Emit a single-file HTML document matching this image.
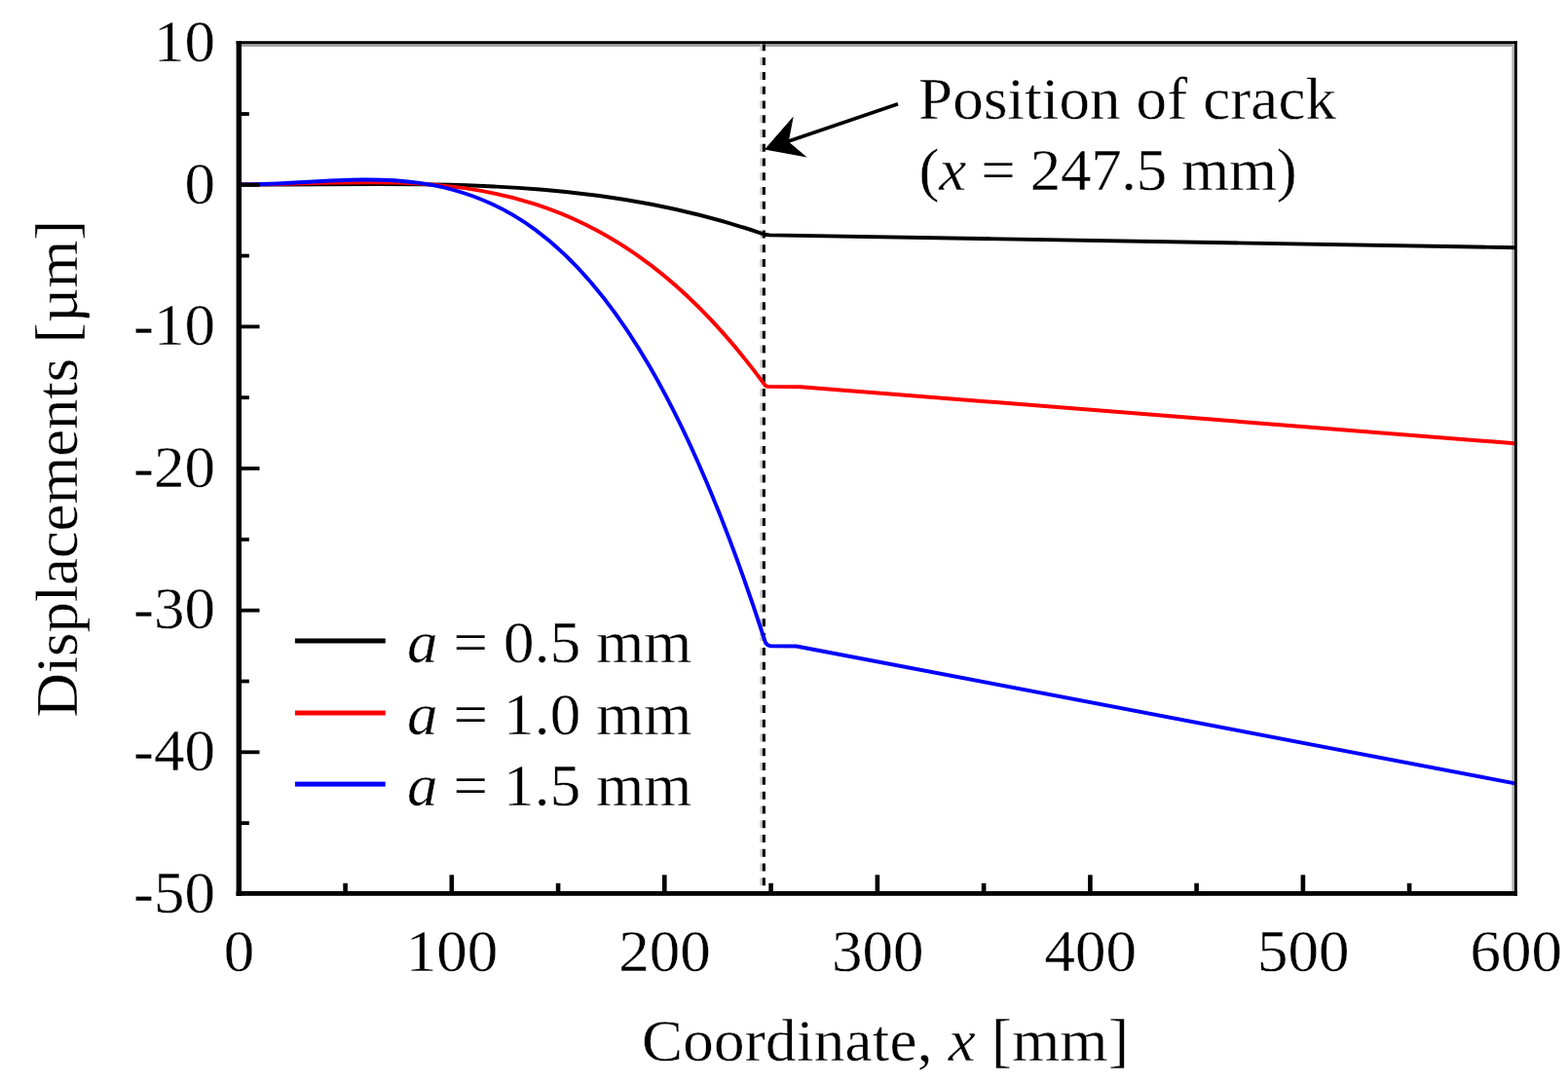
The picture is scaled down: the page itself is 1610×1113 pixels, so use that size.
<!DOCTYPE html>
<html lang="en">
<head>
<meta charset="utf-8">
<title>Displacements vs. coordinate</title>
<style>
html,body{margin:0;padding:0;background:#fff;}
body{width:1610px;height:1113px;overflow:hidden;}
svg{display:block;filter:blur(0.7px);}
text{font-family:"Liberation Serif","DejaVu Serif",serif;font-size:62px;fill:#000;stroke:#fff;stroke-width:0.35px;}
.it{font-style:italic;}
</style>
</head>
<body>
<svg width="1610" height="1113" viewBox="0 0 1610 1113">
<rect width="1610" height="1113" fill="#fff"/>
<rect x="248" y="45" width="1307" height="2.8" fill="#999"/>
<rect x="1552.4" y="45" width="2.6" height="870" fill="#b0b0b0"/>
<line x1="781.5" y1="45.4" x2="781.5" y2="909.3" stroke="#cfcfcf" stroke-width="2.6" stroke-dasharray="8 6.775" stroke-dashoffset="1.075"/>
<line x1="784.35" y1="45.4" x2="784.35" y2="909.3" stroke="#000" stroke-width="3.1" stroke-dasharray="8 6.775" stroke-dashoffset="1.075"/>
<path d="M245.30,189.50 C425.20,190.63 605.10,177.57 785.00,240.75 L790.0,241.4 L1555.6,254.2" fill="none" stroke="#000" stroke-width="3.9" stroke-linejoin="round"/>
<path d="M245.30,189.50 C425.53,189.87 605.77,148.95 786.00,396.15 L788.5,396.9 L822.0,397.2 L1555.6,455.3" fill="none" stroke="#f00" stroke-width="3.9" stroke-linejoin="round"/>
<path d="M245.30,189.50 C425.53,190.38 605.77,98.59 786.00,659.90 L788.3,662.4 L791.5,663.4 L817.6,663.5 L1555.6,804.4" fill="none" stroke="#00f" stroke-width="3.9" stroke-linejoin="round"/>
<rect x="242.6" y="42.2" width="5.4" height="877.6" fill="#000"/>
<rect x="242.6" y="915" width="1315.2" height="4.8" fill="#000"/>
<rect x="242.6" y="42.2" width="1315.2" height="2.8" fill="#000"/>
<rect x="1555" y="42.2" width="2.8" height="877.6" fill="#000"/>
<rect x="248" y="115.1" width="7.8" height="3.8" fill="#000"/>
<rect x="248" y="187.9" width="18.5" height="3.8" fill="#000"/>
<rect x="248" y="260.7" width="7.8" height="3.8" fill="#000"/>
<rect x="248" y="333.5" width="18.5" height="3.8" fill="#000"/>
<rect x="248" y="406.3" width="7.8" height="3.8" fill="#000"/>
<rect x="248" y="479.1" width="18.5" height="3.8" fill="#000"/>
<rect x="248" y="552.0" width="7.8" height="3.8" fill="#000"/>
<rect x="248" y="624.8" width="18.5" height="3.8" fill="#000"/>
<rect x="248" y="697.6" width="7.8" height="3.8" fill="#000"/>
<rect x="248" y="770.4" width="18.5" height="3.8" fill="#000"/>
<rect x="248" y="843.2" width="7.8" height="3.8" fill="#000"/>
<rect x="352.3" y="906.8" width="4.6" height="8.4" fill="#000"/>
<rect x="461.5" y="898.3" width="4.6" height="16.9" fill="#000"/>
<rect x="570.8" y="906.8" width="4.6" height="8.4" fill="#000"/>
<rect x="680.0" y="898.3" width="4.6" height="16.9" fill="#000"/>
<rect x="789.3" y="906.8" width="4.6" height="8.4" fill="#000"/>
<rect x="898.6" y="898.3" width="4.6" height="16.9" fill="#000"/>
<rect x="1007.8" y="906.8" width="4.6" height="8.4" fill="#000"/>
<rect x="1117.1" y="898.3" width="4.6" height="16.9" fill="#000"/>
<rect x="1226.3" y="906.8" width="4.6" height="8.4" fill="#000"/>
<rect x="1335.6" y="898.3" width="4.6" height="16.9" fill="#000"/>
<rect x="1444.8" y="906.8" width="4.6" height="8.4" fill="#000"/>
<text transform="translate(220.9,62.8) scale(1.0161,1)" text-anchor="end">10</text>
<text transform="translate(220.9,208.5) scale(1.0161,1)" text-anchor="end">0</text>
<text transform="translate(220.9,354.1) scale(1.0161,1)" text-anchor="end">-10</text>
<text transform="translate(220.9,499.7) scale(1.0161,1)" text-anchor="end">-20</text>
<text transform="translate(220.9,645.3) scale(1.0161,1)" text-anchor="end">-30</text>
<text transform="translate(220.9,790.9) scale(1.0161,1)" text-anchor="end">-40</text>
<text transform="translate(220.9,936.5) scale(1.0161,1)" text-anchor="end">-50</text>
<text transform="translate(245.6,997.4) scale(1.0161,1)" text-anchor="middle">0</text>
<text transform="translate(464.1,997.4) scale(1.0161,1)" text-anchor="middle">100</text>
<text transform="translate(682.6,997.4) scale(1.0161,1)" text-anchor="middle">200</text>
<text transform="translate(901.2,997.4) scale(1.0161,1)" text-anchor="middle">300</text>
<text transform="translate(1119.7,997.4) scale(1.0161,1)" text-anchor="middle">400</text>
<text transform="translate(1338.2,997.4) scale(1.0161,1)" text-anchor="middle">500</text>
<text transform="translate(1556.7,997.4) scale(1.0161,1)" text-anchor="middle">600</text>
<text transform="translate(659.0,1089) scale(1.0161,1)" letter-spacing="0.277">Coordinate, <tspan class="it">x</tspan> [mm]</text>
<text transform="translate(78.8,736.6) rotate(-90) scale(1.0161,1)" letter-spacing="-0.171">Displacements [µm]</text>
<text transform="translate(943.1,121.5) scale(1.0161,1)" letter-spacing="0.126">Position of crack</text>
<text transform="translate(943.5,195.1) scale(1.0161,1)" letter-spacing="-0.329">(<tspan class="it">x</tspan> = 247.5 mm)</text>
<line x1="922" y1="106.7" x2="806" y2="146.2" stroke="#000" stroke-width="3.6"/>
<path d="M785,153.4 L814.7,119.6 L809.8,145.5 L828.6,161.4 Z" fill="#000"/>
<rect x="302.9" y="655.5" width="92.8" height="5" fill="#000"/>
<text transform="translate(418.0,679.9) scale(1.0161,1)" letter-spacing="0.141"><tspan class="it">a</tspan> = 0.5 mm</text>
<rect x="302.9" y="729.5" width="92.8" height="5" fill="#f00"/>
<text transform="translate(418.0,753.7) scale(1.0161,1)" letter-spacing="0.141"><tspan class="it">a</tspan> = 1.0 mm</text>
<rect x="302.9" y="802.6" width="92.8" height="5" fill="#00f"/>
<text transform="translate(418.0,827.1) scale(1.0161,1)" letter-spacing="0.141"><tspan class="it">a</tspan> = 1.5 mm</text>
</svg>
</body>
</html>
